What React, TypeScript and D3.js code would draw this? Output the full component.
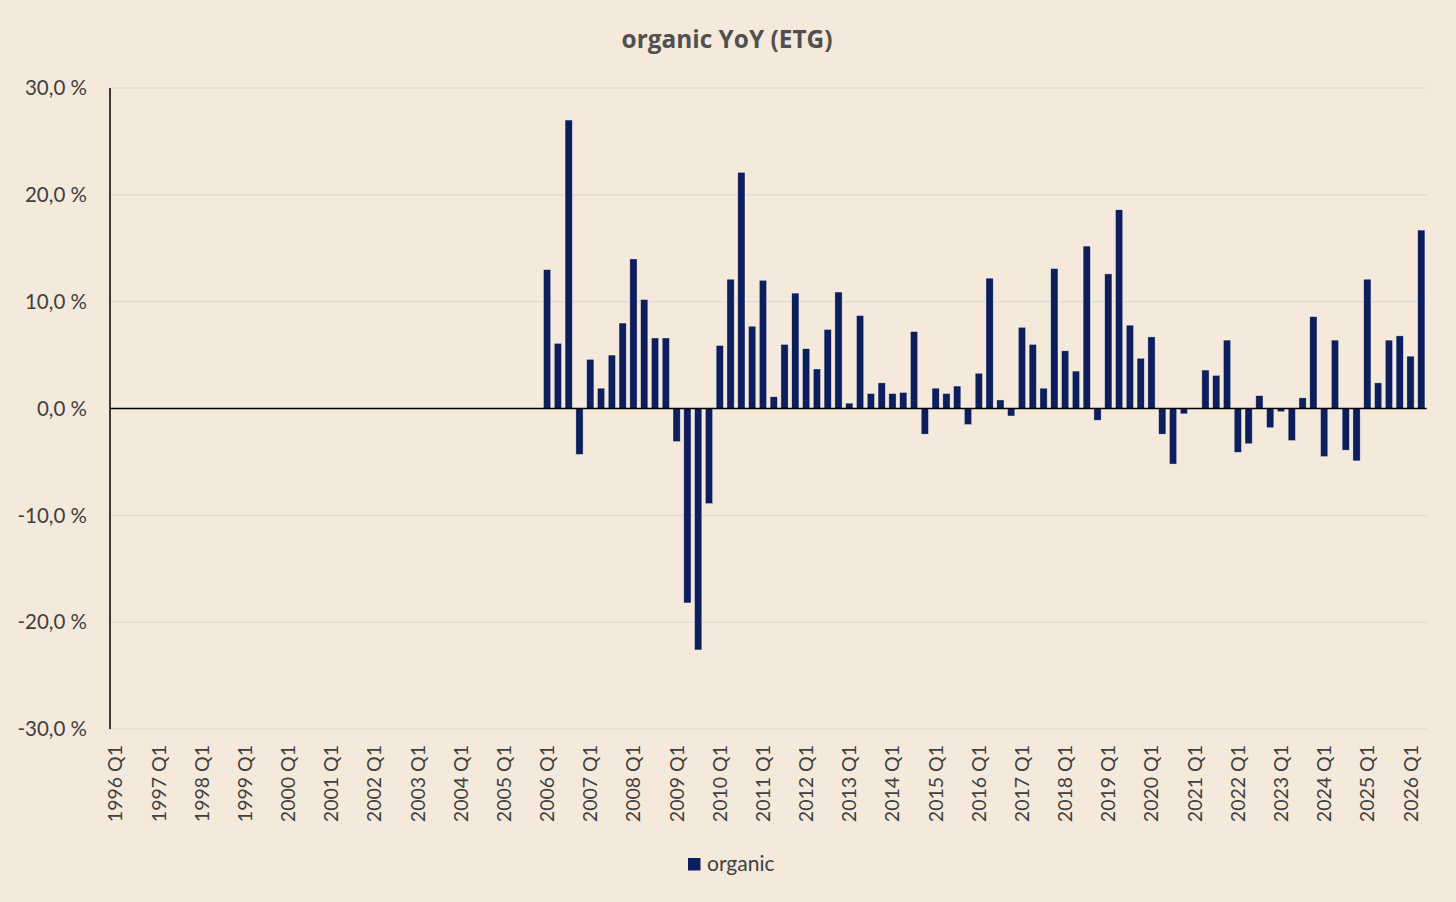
import React from "react";
import * as d3 from "d3";

const title = "organic YoY (ETG)";
const seriesName = "organic";
const firstYear = 1996;
const lastYear = 2026;
const lastQuarterOfLastYear = 2;
const firstDataQuarter = "2006 Q1";
// organic YoY growth in %, from 2006 Q1 onward
const organicValues = [
  13.0, 6.1, 27.0, -4.3,
  4.6, 1.9, 5.0, 8.0,
  14.0, 10.2, 6.6, 6.6,
  -3.1, -18.2, -22.6, -8.9,
  5.9, 12.1, 22.1, 7.7,
  12.0, 1.1, 6.0, 10.8,
  5.6, 3.7, 7.4, 10.9,
  0.5, 8.7, 1.4, 2.4,
  1.4, 1.5, 7.2, -2.4,
  1.9, 1.4, 2.1, -1.5,
  3.3, 12.2, 0.8, -0.7,
  7.6, 6.0, 1.9, 13.1,
  5.4, 3.5, 15.2, -1.1,
  12.6, 18.6, 7.8, 4.7,
  6.7, -2.4, -5.2, -0.5,
  0.0, 3.6, 3.1, 6.4,
  -4.1, -3.3, 1.2, -1.8,
  -0.3, -3.0, 1.0, 8.6,
  -4.5, 6.4, -3.9, -4.9,
  12.1, 2.4, 6.4, 6.8,
  4.9, 16.7,
];
const yTicks = [30, 20, 10, 0, -10, -20, -30];

const quarters: string[] = [];
for (let y = firstYear; y <= lastYear; y++) {
  for (let q = 1; q <= 4; q++) {
    if (y === lastYear && q > lastQuarterOfLastYear) break;
    quarters.push(`${y} Q${q}`);
  }
}
const startIdx = quarters.indexOf(firstDataQuarter);
const data = organicValues.map((v, i) => ({ label: quarters[startIdx + i], value: v }));

const W = 1456;
const H = 902;
const left = 110;
const right = 1426.7;
const top = 88;
const bottom = 729;
const BG = "#F4E9DB";
const BAR = "#0C1F5C";
const TEXT = "#404040";
const FONT = "Lato, 'Open Sans', sans-serif";
const TITLE_FONT = "'Open Sans', Lato, sans-serif";

export default function App() {
  const x = d3.scaleBand<string>().domain(quarters).range([left, right]).paddingInner(0.33).paddingOuter(0.165);
  const y = d3.scaleLinear().domain([-30, 30]).range([bottom, top]);
  const fmt = (v: number) => d3.format(".1f")(v).replace(".", ",").replace("−", "-") + " %";
  const labelQuarters = quarters.filter((q) => q.endsWith("Q1"));

  return (
    <div style={{ position: "fixed", left: 0, top: 0, width: W, height: H, background: BG }}>
      <svg width={W} height={H} style={{ display: "block" }}>
        <rect x={0} y={0} width={W} height={H} fill={BG} />
        <text x={727} y={48} textAnchor="middle" fontFamily={TITLE_FONT} fontWeight={700} fontSize={24.4} fill="#505050">
          {title}
        </text>
        {yTicks.map((t) => (
          <g key={t}>
            {t !== 0 && (
              <line x1={left} x2={right} y1={y(t)} y2={y(t)} stroke="#D9D6D6" strokeWidth={1} />
            )}
            <text x={87} y={y(t) + 7.3} textAnchor="end" fontFamily={FONT} fontSize={20.5} fill={TEXT}>
              {fmt(t)}
            </text>
          </g>
        ))}
        {data.map((d) => {
          const y0 = y(0);
          const yv = y(d.value);
          return (
            <rect
              key={d.label}
              x={x(d.label)}
              width={x.bandwidth()}
              y={Math.min(y0, yv)}
              height={Math.abs(yv - y0)}
              fill={BAR}
              stroke="#FFFFFF"
              strokeOpacity={0.6}
              strokeWidth={0.6}
            />
          );
        })}
        <line x1={left} x2={right} y1={y(0)} y2={y(0)} stroke="#000" strokeWidth={1.5} />
        <line x1={left} x2={left} y1={top} y2={bottom} stroke="#000" strokeWidth={1.5} />
        {labelQuarters.map((q) => {
          const cx = (x(q) as number) + x.bandwidth() / 2;
          return (
            <text
              key={q}
              transform={`translate(${cx + 7},${745}) rotate(-90)`}
              textAnchor="end"
              fontFamily={FONT}
              fontSize={19.5}
              fill={TEXT}
            >
              {q}
            </text>
          );
        })}
        <rect x={688} y={858} width={12.5} height={12.5} fill={BAR} />
        <text x={707} y={871} fontFamily={FONT} fontSize={21} fill={TEXT}>
          {seriesName}
        </text>
      </svg>
    </div>
  );
}
